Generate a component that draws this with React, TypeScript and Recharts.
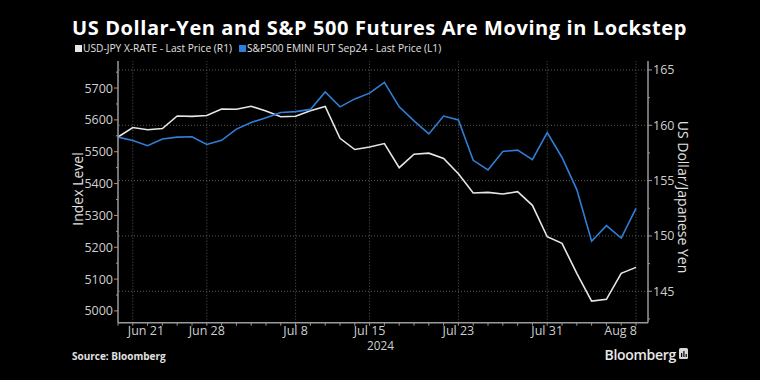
import React from 'react';
import { ComposedChart, Line, XAxis, YAxis, ReferenceLine } from 'recharts';

const dates = [
  'Jun 20', 'Jun 21', 'Jun 24', 'Jun 25', 'Jun 26', 'Jun 27', 'Jun 28',
  'Jul 1', 'Jul 2', 'Jul 3', 'Jul 4', 'Jul 5',
  'Jul 8', 'Jul 9', 'Jul 10', 'Jul 11', 'Jul 12',
  'Jul 15', 'Jul 16', 'Jul 17', 'Jul 18', 'Jul 19',
  'Jul 22', 'Jul 23', 'Jul 24', 'Jul 25', 'Jul 26',
  'Jul 29', 'Jul 30', 'Jul 31', 'Aug 1', 'Aug 2',
  'Aug 5', 'Aug 6', 'Aug 7', 'Aug 8',
];

const usdJpy = [
  158.94, 159.8, 159.6, 159.71, 160.84, 160.81, 160.89,
  161.47, 161.45, 161.72, 161.29, 160.77,
  160.82, 161.32, 161.7, 158.82, 157.81,
  158.04, 158.35, 156.17, 157.39, 157.48,
  157.0, 155.62, 153.88, 153.94, 153.79,
  154.0, 152.77, 149.93, 149.33, 146.62,
  144.11, 144.27, 146.62, 147.16,
];

const spxFut = [
  5546, 5535, 5519, 5540, 5546, 5547, 5523,
  5536, 5571, 5592, 5607, 5623,
  5626, 5633, 5688, 5641, 5666,
  5684, 5718, 5641, 5597, 5556,
  5612, 5600, 5473, 5443, 5501,
  5505, 5475, 5560, 5482, 5381,
  5219, 5268, 5229, 5322,
];

const majorDateIdx = [1, 6, 12, 17, 23, 29, 35];
const yearLabelIdx = 17;
const yearLabel = '2024';
const leftTicks = [5000, 5050, 5100, 5150, 5200, 5250, 5300, 5350, 5400, 5450, 5500, 5550, 5600, 5650, 5700, 5750];
const rightTicks = [142.5, 145, 147.5, 150, 152.5, 155, 157.5, 160, 162.5, 165];
const rightGrid = [145, 150, 155, 160, 165];

const data = dates.map((d, i) => ({ i, date: d, usdjpy: usdJpy[i], spx: spxFut[i] }));

const FONT = '"Open Sans", "DejaVu Sans", sans-serif';
const TICK_COLOR = '#cfcfcf';
const AXIS_COLOR = '#9a9a9a';
const GRID_COLOR = '#5a5a5a';
const WHITE_LINE = '#e6e6e6';
const BLUE_LINE = '#2f7fd8';

const LeftTick = (props: any) => {
  const { x, y, payload } = props;
  const axisX = x + 5;
  const major = payload.value % 100 === 0;
  return (
    <g>
      <line x1={axisX - (major ? 4 : 2)} x2={axisX} y1={y} y2={y} stroke={AXIS_COLOR} strokeWidth={1} />
      {major && (
        <text x={x} y={y} dy={4.5} textAnchor="end" fill={TICK_COLOR} fontSize={12.5} fontFamily={FONT}>
          {payload.value}
        </text>
      )}
    </g>
  );
};

const RightTick = (props: any) => {
  const { x, y, payload } = props;
  const axisX = x - 5;
  const major = payload.value % 5 === 0;
  return (
    <g>
      <line x1={axisX} x2={axisX + (major ? 4 : 2)} y1={y} y2={y} stroke={AXIS_COLOR} strokeWidth={1} />
      {major && (
        <text x={x} y={y} dy={4.5} textAnchor="start" fill={TICK_COLOR} fontSize={12.5} fontFamily={FONT}>
          {payload.value}
        </text>
      )}
    </g>
  );
};

const BottomTick = (props: any) => {
  const { x, y, payload } = props;
  const axisY = y - 5;
  const idx = payload.value;
  const mi = majorDateIdx.indexOf(idx);
  const isFirst = mi === 0;
  const isLast = mi === majorDateIdx.length - 1;
  let tx = x;
  let anchor: 'start' | 'middle' | 'end' = 'middle';
  if (isFirst) { tx = x - 5; anchor = 'start'; }
  if (isLast) { tx = x + 1; anchor = 'end'; }
  return (
    <g>
      <line x1={x} x2={x} y1={axisY} y2={axisY + 3} stroke={AXIS_COLOR} strokeWidth={1} />
      {mi >= 0 && (
        <text x={tx} y={axisY + 12.3} textAnchor={anchor} fill={TICK_COLOR} fontSize={12.5} fontFamily={FONT}>
          {dates[idx]}
        </text>
      )}
      {idx === yearLabelIdx && (
        <text x={tx + 11} y={axisY + 27.5} textAnchor="middle" fill={TICK_COLOR} fontSize={11.8} fontFamily={FONT}>
          {yearLabel}
        </text>
      )}
    </g>
  );
};

export default function App() {
  return (
    <div style={{ position: 'absolute', left: 0, top: 0, width: 760, height: 380, background: '#000', overflow: 'hidden', fontFamily: FONT }}>
      <ComposedChart
        width={760}
        height={380}
        data={data}
        margin={{ top: 61, right: 0, bottom: 27.3, left: 0 }}
      >
        {rightGrid.map((v) => (
          <ReferenceLine key={'h' + v} yAxisId="right" y={v} stroke={GRID_COLOR} strokeDasharray="1 2" />
        ))}
        {majorDateIdx.map((v) => (
          <ReferenceLine key={'v' + v} yAxisId="left" x={v} stroke={GRID_COLOR} strokeDasharray="1 2" />
        ))}
        <XAxis
          dataKey="i"
          type="number"
          domain={[0, 35.81]}
          ticks={dates.map((_, i) => i)}
          interval={0}
          height={30}
          tickSize={3}
          tickMargin={2}
          tickLine={false}
          axisLine={{ stroke: AXIS_COLOR, strokeWidth: 1.5 }}
          tick={<BottomTick />}
          allowDataOverflow
        />
        <YAxis
          yAxisId="left"
          orientation="left"
          width={118}
          domain={[4963, 5785]}
          ticks={leftTicks}
          interval={0}
          tickSize={4}
          tickMargin={1}
          tickLine={false}
          axisLine={{ stroke: AXIS_COLOR, strokeWidth: 1.5 }}
          tick={<LeftTick />}
          allowDataOverflow
        />
        <YAxis
          yAxisId="right"
          orientation="right"
          width={112}
          domain={[142.16, 165.81]}
          ticks={rightTicks}
          interval={0}
          tickSize={4}
          tickMargin={1}
          tickLine={false}
          axisLine={{ stroke: AXIS_COLOR, strokeWidth: 1.5 }}
          tick={<RightTick />}
          allowDataOverflow
        />
        <Line yAxisId="right" type="linear" dataKey="usdjpy" stroke={WHITE_LINE} strokeWidth={1.6} dot={false} isAnimationActive={false} />
        <Line yAxisId="left" type="linear" dataKey="spx" stroke={BLUE_LINE} strokeWidth={1.6} dot={false} isAnimationActive={false} />
      </ComposedChart>

      <svg width={760} height={380} style={{ position: 'absolute', left: 0, top: 0, pointerEvents: 'none' }}>
        <text x={72} y={35} fill="#ffffff" fontSize={20} fontWeight={700} fontFamily={FONT} letterSpacing={0.6}>
          US Dollar-Yen and S&amp;P 500 Futures Are Moving in Lockstep
        </text>
        <rect x={75} y={45} width={7} height={7} fill={WHITE_LINE} />
        <text x={83} y={52} fill="#e0e0e0" fontSize={10.2} fontFamily={FONT}>USD-JPY X-RATE - Last Price (R1)</text>
        <rect x={239} y={45} width={7} height={7} fill={BLUE_LINE} />
        <text x={247} y={52} fill="#e0e0e0" fontSize={10.2} fontFamily={FONT}>S&amp;P500 EMINI FUT Sep24 - Last Price (L1)</text>
        <text x={0} y={0} transform="translate(83,189) rotate(-90)" textAnchor="middle" fill="#e0e0e0" fontSize={14} fontFamily={FONT}>Index Level</text>
        <text x={0} y={0} transform="translate(678,197) rotate(90)" textAnchor="middle" fill="#e0e0e0" fontSize={14} fontFamily={FONT}>US Dollar/Japanese Yen</text>
        <text x={72} y={360} fill="#e0e0e0" fontSize={10} fontWeight={700} fontFamily={FONT}>Source: Bloomberg</text>
        <text x={676} y={360} textAnchor="end" fill="#e8e8e8" fontSize={14} fontWeight={600} fontFamily={FONT} letterSpacing={-0.3}>Bloomberg</text>
        <rect x={679} y={348} width={9} height={11} rx={1.5} fill="#d8d8d8" />
        <rect x={681} y={353} width={1.2} height={4} fill="#000" />
        <rect x={683.3} y={351} width={1.2} height={6} fill="#000" />
        <rect x={685.6} y={354} width={1.2} height={3} fill="#000" />
      </svg>
    </div>
  );
}
